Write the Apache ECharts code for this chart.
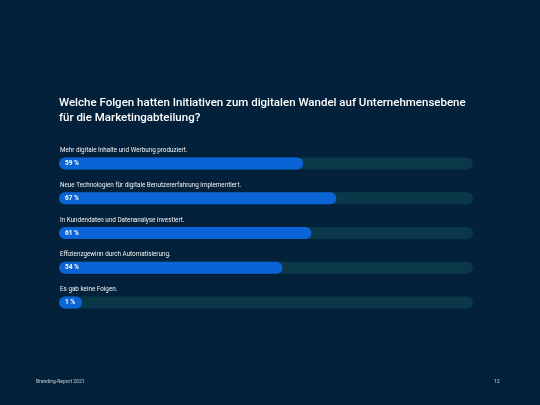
<!DOCTYPE html>
<html>
<head>
<meta charset="utf-8">
<script src="https://cdn.jsdelivr.net/npm/echarts@6/dist/echarts.min.js"></script>
<style>
  html, body { margin: 0; padding: 0; background: #03213a; }
  #chart { width: 540px; height: 405px; }
</style>
</head>
<body>
<div id="chart"></div>
<script>
const categories = [
    'Mehr digitale Inhalte und Werbung produziert.',
    'Neue Technologien für digitale Benutzererfahrung implementiert.',
    'In Kundendaten und Datenanalyse investiert.',
    'Effizienzgewinn durch Automatisierung.',
    'Es gab keine Folgen.'
];
const values = [59, 67, 61, 54, 1];

const titleText = 'Welche Folgen hatten Initiativen zum digitalen Wandel auf Unternehmensebene\nfür die Marketingabteilung?';
const footerLeft = 'Branding-Report 2021';
const footerRight = '12';

let myChart = echarts.init(document.getElementById('chart'));

let option = {
    backgroundColor: '#03213a',
    textStyle: { fontFamily: 'Roboto, sans-serif' },
    title: [
        {
            text: titleText,
            left: 59,
            top: 96,
            padding: 0,
            textStyle: { color: '#ffffff', fontSize: 11.5, fontWeight: 500, lineHeight: 15 }
        },
        {
            text: footerLeft,
            left: 36,
            top: 379,
            padding: 0,
            textStyle: { color: '#c8d0d8', fontSize: 5, fontWeight: 'normal' }
        },
        {
            text: footerRight,
            left: 494,
            top: 379,
            padding: 0,
            textStyle: { color: '#c8d0d8', fontSize: 5, fontWeight: 'normal' }
        }
    ],
    grid: { left: 59, right: 67, top: 146, bottom: 85 },
    xAxis: { type: 'value', min: 0, max: 100, show: false },
    yAxis: {
        type: 'category',
        data: categories,
        inverse: true,
        axisLine: { show: false },
        axisTick: { show: false },
        axisLabel: {
            inside: true,
            margin: 0,
            align: 'left',
            verticalAlign: 'bottom',
            padding: [0, 0, 10, 1],
            color: '#f2f4f6',
            fontSize: 6.3
        }
    },
    series: [{
        type: 'bar',
        data: values,
        barWidth: 12,
        barMinHeight: 23,
        showBackground: true,
        backgroundStyle: { color: '#0b3848', borderRadius: 6 },
        itemStyle: { color: '#0a64d6', borderRadius: 6 },
        label: {
            show: true,
            position: 'insideLeft',
            offset: [1, 0],
            formatter: '{c} %',
            color: '#ffffff',
            fontSize: 6.5,
            fontWeight: 'bold'
        },
        silent: true
    }]
};
myChart.setOption(option);
</script>
</body>
</html>
